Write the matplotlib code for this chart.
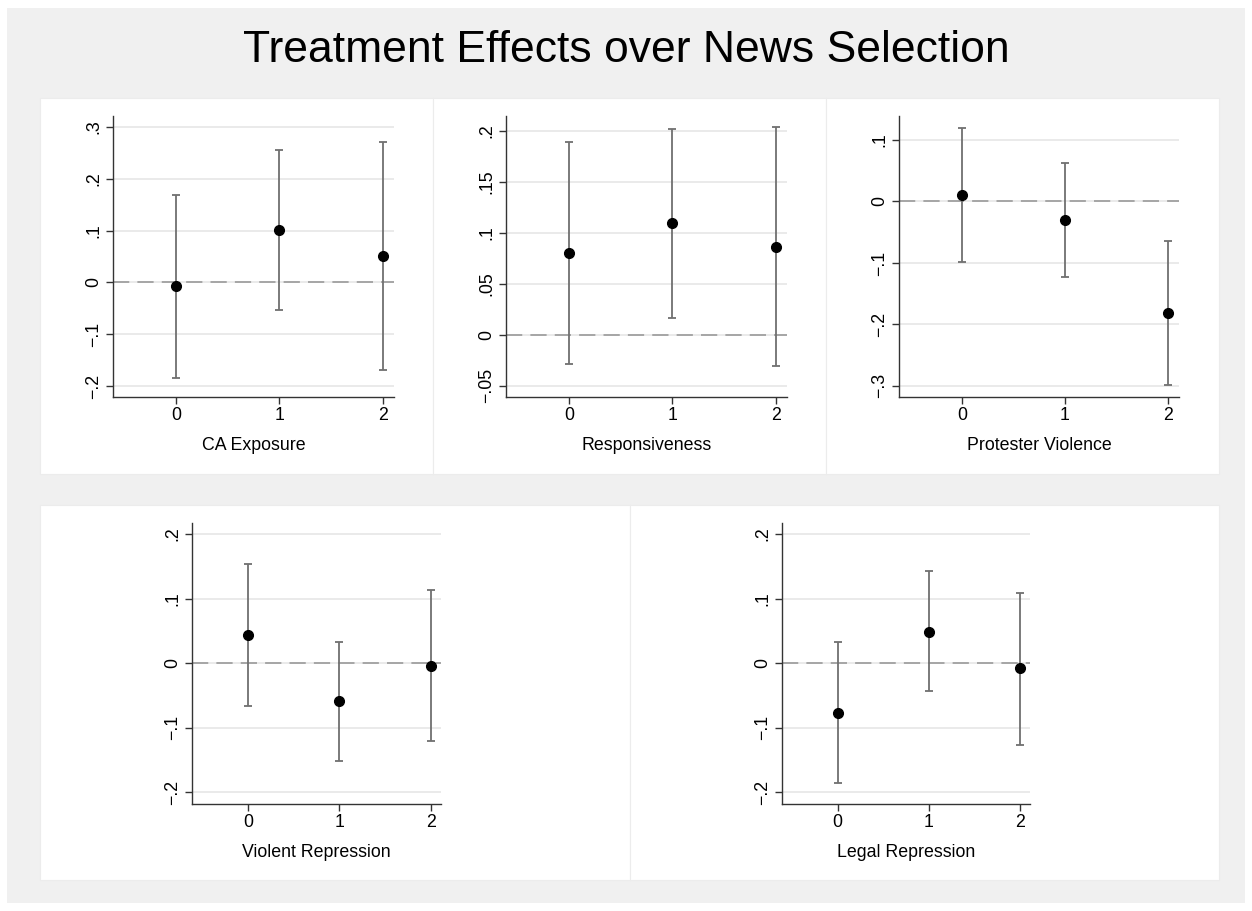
import matplotlib.pyplot as plt
from matplotlib.patches import Rectangle

plt.rcParams['font.family'] = ['Liberation Sans', 'DejaVu Sans']

# --- data ---
x = [0, 1, 2]

names = ["CA Exposure", "Responsiveness", "Protester Violence",
         "Violent Repression", "Legal Repression"]

est_ca = [-0.007, 0.101, 0.051]
lo_ca = [-0.184, -0.053, -0.168]
hi_ca = [0.169, 0.255, 0.271]

est_resp = [0.080, 0.110, 0.086]
lo_resp = [-0.029, 0.017, -0.031]
hi_resp = [0.189, 0.202, 0.2035]

est_pv = [0.010, -0.030, -0.181]
lo_pv = [-0.099, -0.123, -0.299]
hi_pv = [0.119, 0.062, -0.065]

est_vr = [0.044, -0.059, -0.004]
lo_vr = [-0.066, -0.151, -0.120]
hi_vr = [0.153, 0.033, 0.114]

est_lr = [-0.077, 0.049, -0.008]
lo_lr = [-0.185, -0.043, -0.126]
hi_lr = [0.033, 0.142, 0.108]

yticks_ca = [-0.2, -0.1, 0, 0.1, 0.2, 0.3]
ylabels_ca = ["\u2212.2", "\u2212.1", "0", ".1", ".2", ".3"]
yticks_resp = [-0.05, 0, 0.05, 0.1, 0.15, 0.2]
ylabels_resp = ["\u2212.05", "0", ".05", ".1", ".15", ".2"]
yticks_pv = [-0.3, -0.2, -0.1, 0, 0.1]
ylabels_pv = ["\u2212.3", "\u2212.2", "\u2212.1", "0", ".1"]
yticks_rep = [-0.2, -0.1, 0, 0.1, 0.2]
ylabels_rep = ["\u2212.2", "\u2212.1", "0", ".1", ".2"]

W, H = 1252, 911
fig = plt.figure(figsize=(W / 100, H / 100), dpi=100)
fig.patch.set_facecolor('white')


def px_rect(x0, y0, x1, y1):
    # pixel box (top-left origin) -> figure fraction rect
    return [x0 / W, 1 - y1 / H, (x1 - x0) / W, (y1 - y0) / H]


# background and panel boxes
fig.patches.append(Rectangle((7 / W, 1 - 903 / H), 1238 / W, 895 / H,
                             transform=fig.transFigure, facecolor='#f0f0f0',
                             edgecolor='none', zorder=-3))
for bx in [(40, 98, 433, 474), (433, 98, 826, 474), (826, 98, 1219, 474),
           (40, 505, 630, 880), (630, 505, 1219, 880)]:
    r = px_rect(*bx)
    fig.patches.append(Rectangle((r[0], r[1]), r[2], r[3],
                                 transform=fig.transFigure, facecolor='white',
                                 edgecolor='#ececec', lw=0.8, zorder=-2))

fig.text(0.5, 1 - 51 / H, "Treatment Effects over News Selection",
         ha='center', va='center', fontsize=32, color='black')

panels = [
    (px_rect(113, 116, 394, 397), est_ca, lo_ca, hi_ca, yticks_ca, ylabels_ca, (-0.221, 0.321)),
    (px_rect(506, 116, 787, 397), est_resp, lo_resp, hi_resp, yticks_resp, ylabels_resp, (-0.061, 0.2147)),
    (px_rect(899, 116, 1179, 397), est_pv, lo_pv, hi_pv, yticks_pv, ylabels_pv, (-0.318, 0.139)),
    (px_rect(192, 523, 441, 804), est_vr, lo_vr, hi_vr, yticks_rep, ylabels_rep, (-0.218, 0.217)),
    (px_rect(782, 523, 1030, 804), est_lr, lo_lr, hi_lr, yticks_rep, ylabels_rep, (-0.218, 0.217)),
]

for i, (rect, est, lo, hi, yt, yl, ylim) in enumerate(panels):
    ax = fig.add_axes(rect)
    ax.set_facecolor('white')
    err = [[e - l for e, l in zip(est, lo)], [h - e for e, h in zip(est, hi)]]
    ax.errorbar(x, est, yerr=err, fmt='none', ecolor='#707070',
                elinewidth=1.3, capsize=2.9, capthick=1.3, zorder=3)
    ax.plot(x, est, 'o', color='black', markersize=7, zorder=4)
    ax.axhline(0, color='#a0a0a0', lw=1.3, dashes=(9, 4.5), zorder=2)
    ax.set_xlim(-0.61, 2.11)
    ax.set_ylim(*ylim)
    ax.set_xticks(x)
    ax.set_xticklabels([str(v) for v in x])
    ax.set_yticks(yt)
    ax.set_yticklabels(yl, rotation=90, va='center')
    ax.grid(axis='y', color='#e8e8e8', lw=1.3, zorder=0)
    ax.set_axisbelow(True)
    for s in ['top', 'right']:
        ax.spines[s].set_visible(False)
    for s in ['left', 'bottom']:
        ax.spines[s].set_color('#333333')
        ax.spines[s].set_linewidth(1.0)
    ax.tick_params(direction='out', length=5, width=1.0, color='#333333',
                   labelsize=12.8, pad=2.5)
    ax.set_xlabel(names[i], fontsize=12.8, labelpad=9)

fig.savefig("out.png", dpi=100)
